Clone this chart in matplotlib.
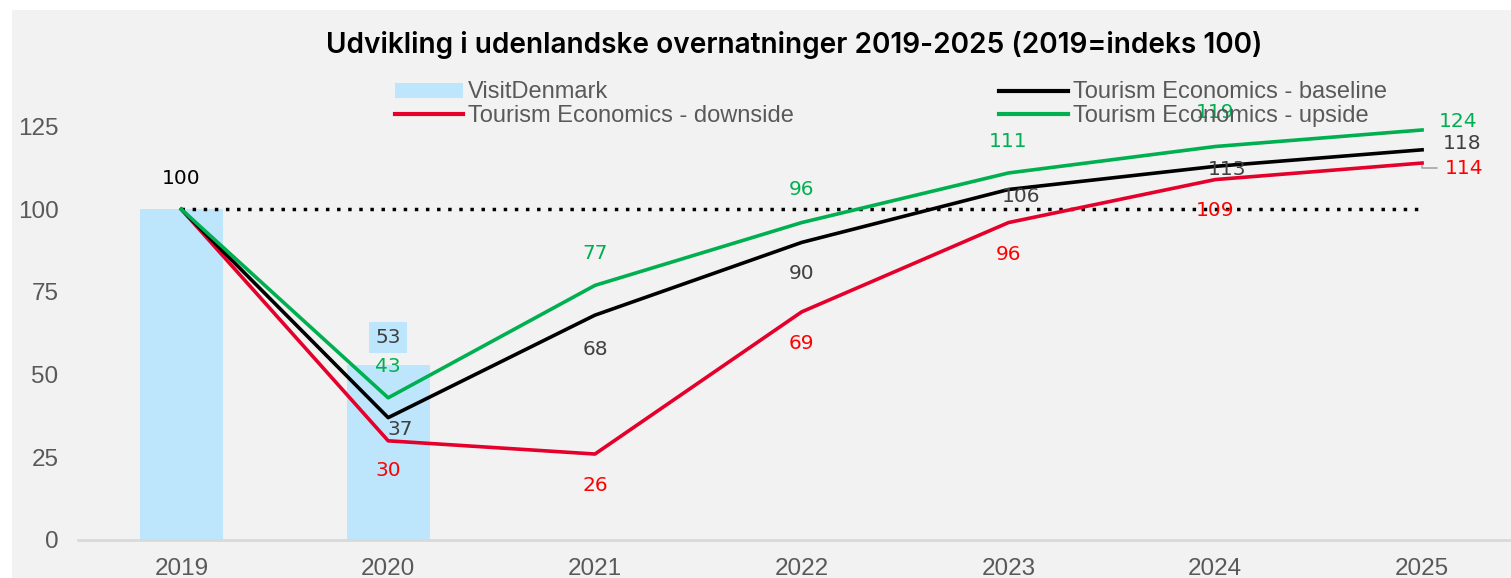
import numpy as np
import matplotlib.pyplot as plt
from matplotlib.patches import Rectangle, Patch
from matplotlib.lines import Line2D

years = ["2019", "2020", "2021", "2022", "2023", "2024", "2025"]
visitdenmark = [100, 53]
baseline = [100, 37, 68, 90, 106, 113, 118]
downside = [100, 30, 26, 69, 96, 109, 114]
upside = [100, 43, 77, 96, 111, 119, 124]
yticks = [0, 25, 50, 75, 100, 125]

# label offsets in pixels (dx, dy) for each point
base_off = [(0, 31), (12, -12), (0, -34), (0, -31), (13, -7), (12, -3), (40, 6)]
down_off = [None, (0, -30), (0, -31), (0, -32), (0, -32), (0, -31), (42, -5)]
up_off = [None, (0, 31), (0, 32), (0, 33), (0, 31), (0, 34), (36, 8)]

GREEN = "#00B050"
RED = "#E4002B"
BLUE = "#BDE6FC"
GREY = "#595959"

fig = plt.figure(figsize=(15.11, 5.78), dpi=100)
fig.patches.append(Rectangle((12 / 1511, 0), 1, 1 - 10 / 578, transform=fig.transFigure,
                             facecolor="#F2F2F2", edgecolor="none", zorder=-10))

ax = fig.add_axes([78 / 1511, 38 / 578, 1 - 78 / 1511, (540 - 44) / 578])
ax.set_facecolor("none")
x = np.arange(len(years))

ax.bar(x[:len(visitdenmark)], visitdenmark, width=0.4, color=BLUE, zorder=1)
ax.plot([x[0], x[-1]], [100, 100], color="black", linestyle=(0, (1, 2.2)), linewidth=2.5, zorder=2)
ax.plot(x, downside, color=RED, linewidth=2.6, zorder=3)
ax.plot(x, baseline, color="black", linewidth=2.6, zorder=4)
ax.plot(x, upside, color=GREEN, linewidth=2.6, zorder=5)

lab_font = dict(family="DejaVu Sans", fontsize=14.5, ha="center", va="center")
for i, v in enumerate(baseline):
    c = "black" if i == 0 else "#404040"
    ax.annotate(str(v), (x[i], v), xytext=base_off[i], textcoords="offset pixels", color=c, zorder=6, **lab_font)
for i, v in enumerate(downside):
    if down_off[i] is None:
        continue
    ax.annotate(str(v), (x[i], v), xytext=down_off[i], textcoords="offset pixels", color="#FF0000", zorder=6, **lab_font)
for i, v in enumerate(upside):
    if up_off[i] is None:
        continue
    ax.annotate(str(v), (x[i], v), xytext=up_off[i], textcoords="offset pixels", color=GREEN, zorder=6, **lab_font)
ax.annotate(str(visitdenmark[1]), (x[1], visitdenmark[1]), xytext=(0, 27), textcoords="offset pixels",
            color="#404040", zorder=6, bbox=dict(boxstyle="square,pad=0.3", facecolor=BLUE, edgecolor="none"),
            **lab_font)
# leader line for 2025 downside label
ax.annotate("", (x[-1], downside[-1]), xytext=(18, -5), textcoords="offset pixels",
            arrowprops=dict(arrowstyle="-", color="#A6A6A6", lw=1.2,
                            connectionstyle="angle,angleA=0,angleB=90,rad=0"), zorder=6)

ax.set_xlim(-0.5, 6.43)
ax.set_ylim(0, 150)
ax.set_xticks(x)
ax.set_xticklabels(years)
ax.set_yticks(yticks)
for s in ["top", "right", "left"]:
    ax.spines[s].set_visible(False)
ax.spines["bottom"].set_color("#D9D9D9")
ax.spines["bottom"].set_linewidth(2)
ax.tick_params(axis="both", length=0, labelsize=17.5, labelcolor=GREY, pad=13)
ax.tick_params(axis="y", pad=14)
for t in ax.get_xticklabels() + ax.get_yticklabels():
    t.set_family("Liberation Sans")

fig.text(794 / 1511, 1 - 45 / 578, "Udvikling i udenlandske overnatninger 2019-2025 (2019=indeks 100)",
         ha="center", va="center", fontsize=20.2, family="Inter", weight="semibold", color="black")

handles = [Patch(facecolor=BLUE, edgecolor="none"),
           Line2D([], [], color=RED, linewidth=3),
           Line2D([], [], color="black", linewidth=3),
           Line2D([], [], color=GREEN, linewidth=3)]
labels = ["VisitDenmark", "Tourism Economics - downside",
          "Tourism Economics - baseline", "Tourism Economics - upside"]
leg = fig.legend(handles, labels, ncol=2, loc="center left", bbox_to_anchor=(395 / 1511, 1 - 104 / 578),
                 frameon=False, prop={"family": "Liberation Sans", "size": 17}, handlelength=2.9,
                 handletextpad=0.2, columnspacing=8.7, labelspacing=0.05, handleheight=0.6,
                 borderpad=0, borderaxespad=0)
for t in leg.get_texts():
    t.set_color(GREY)

fig.savefig("out.png", dpi=100)
